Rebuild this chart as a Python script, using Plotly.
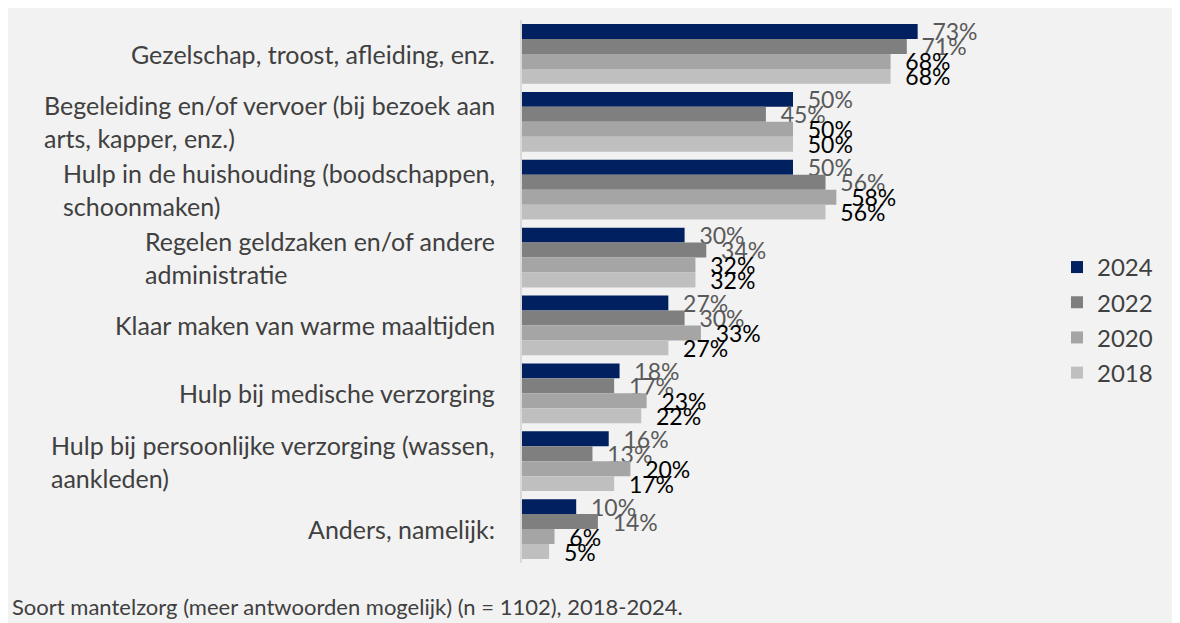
import plotly.graph_objects as go

categories = [
    "Gezelschap, troost, afleiding, enz.",
    "Begeleiding en/of vervoer (bij bezoek aan<br>arts, kapper, enz.)",
    "Hulp in de huishouding (boodschappen,<br>schoonmaken)",
    "Regelen geldzaken en/of andere<br>administratie",
    "Klaar maken van warme maaltijden",
    "Hulp bij medische verzorging",
    "Hulp bij persoonlijke verzorging (wassen,<br>aankleden)",
    "Anders, namelijk:",
]
years = ["2024", "2022", "2020", "2018"]
v2024 = [73, 50, 50, 30, 27, 18, 16, 10]
v2022 = [71, 45, 56, 34, 30, 17, 13, 14]
v2020 = [68, 50, 58, 32, 33, 23, 20, 6]
v2018 = [68, 50, 56, 32, 27, 22, 17, 5]
series = [v2024, v2022, v2020, v2018]
footnote = "Soort mantelzorg (meer antwoorden mogelijk) (n = 1102), 2018-2024."

colors = ["#002060", "#7f7f7f", "#a5a5a5", "#bfbfbf"]
label_colors = ["#595959", "#595959", "#000000", "#000000"]
FONT = "Lato"

# page body margin of 8px offsets the figure in the screenshot
W, H = 1172, 615
ML, MR, MT, MB = 514, 140, 11.5, 59.5
pw, ph = W - ML - MR, H - MT - MB
px_per_unit = 5.42
xmax = pw / px_per_unit

def px2x(px):
    return (px - ML) / pw

def py2y(py):
    return (H - MB - py) / ph

fig = go.Figure()
for name, vals, c, lc in zip(years, series, colors, label_colors):
    fig.add_trace(go.Bar(
        y=categories, x=vals, name=name, orientation="h",
        marker=dict(color=c, line=dict(width=0)),
        texttemplate="\u00a0\u00a0%{x}%", textposition="outside",
        constraintext="none", cliponaxis=False,
        textfont=dict(family=FONT, size=23, color=lc),
        legendgroup=name,
    ))

annotations = []
for cat in categories:
    annotations.append(dict(
        x=0, xref="paper", y=cat, yref="y", text=cat, showarrow=False,
        xanchor="right", align="left", xshift=-25,
        font=dict(family=FONT, size=25, color="#404040"),
    ))
annotations.append(dict(
    x=px2x(2), xref="paper", y=py2y(599), yref="paper", text=footnote,
    showarrow=False, xanchor="left", yanchor="middle",
    font=dict(family=FONT, size=22, color="#404040"),
))

fig.update_layout(
    width=W, height=H,
    margin=dict(l=ML, r=MR, t=MT, b=MB, pad=0),
    paper_bgcolor="#f2f2f2", plot_bgcolor="#f2f2f2",
    barmode="group", bargap=0.118, bargroupgap=0.0,
    xaxis=dict(range=[0, xmax], visible=False, fixedrange=True),
    yaxis=dict(autorange="reversed", showticklabels=False, ticks="",
               showline=True, linecolor="#d9d9d9", linewidth=2,
               showgrid=False, zeroline=False),
    legend=dict(x=px2x(1049), y=py2y(312), xanchor="left", yanchor="middle",
                font=dict(family=FONT, size=24, color="#404040"),
                tracegroupgap=1, bgcolor="rgba(0,0,0,0)"),
    showlegend=True,
    annotations=annotations,
)

fig.write_html("out.html")
